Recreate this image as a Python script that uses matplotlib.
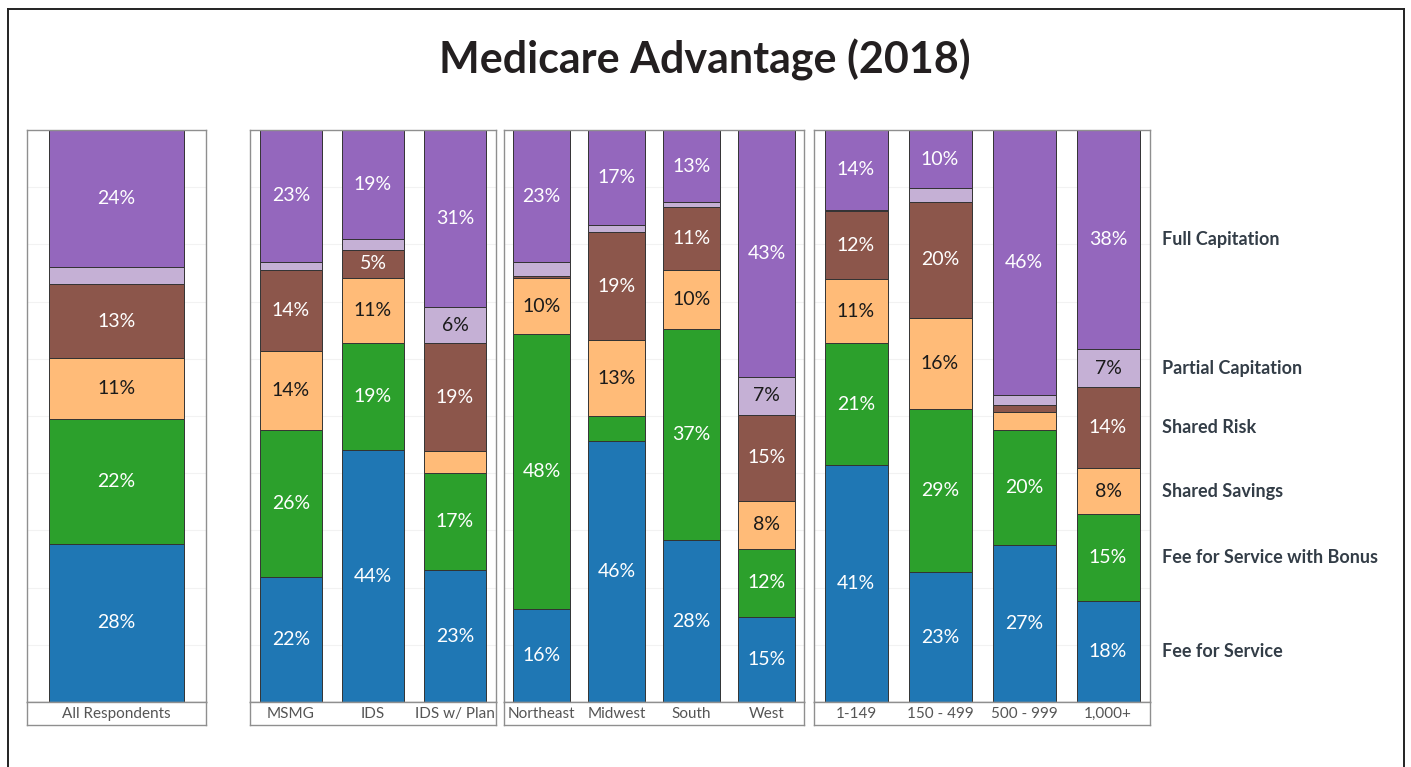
import numpy as np
import matplotlib

matplotlib.use("Agg")

import matplotlib.pyplot as plt
from matplotlib.lines import Line2D
from matplotlib.transforms import blended_transform_factory


CATEGORIES = [
    "All Respondents",
    "MSMG", "IDS", "IDS w/ Plan",
    "Northeast", "Midwest", "South", "West",
    "1-149", "150 - 499", "500 - 999", "1,000+",
]
PANEL_SIZES = [1, 3, 4, 4]

SERIES = [
    "Fee for Service",
    "Fee for Service with Bonus",
    "Shared Savings",
    "Shared Risk",
    "Partial Capitation",
    "Full Capitation",
]

# percent of respondents, bottom to top of each bar
fee_for_service = [27.7, 21.9, 44.0, 23.0, 16.2, 45.6, 28.3, 14.9, 41.4, 22.7, 27.4, 17.7]
ffs_with_bonus = [21.8, 25.6, 18.8, 17.0, 48.1, 4.4, 36.9, 11.9, 21.3, 28.6, 20.2, 15.1]
shared_savings = [10.6, 13.8, 11.3, 3.8, 9.8, 13.2, 10.3, 8.4, 11.2, 15.9, 3.1, 8.1]
shared_risk = [13.0, 14.2, 5.0, 19.0, 0.4, 19.0, 11.0, 15.0, 11.9, 20.2, 1.2, 14.1]
partial_capitation = [2.9, 1.5, 1.9, 6.2, 2.4, 1.2, 0.9, 6.6, 0.3, 2.4, 1.7, 6.7]
full_capitation = [24.0, 23.0, 19.0, 31.0, 23.1, 16.6, 12.6, 43.2, 13.9, 10.2, 46.4, 38.3]

COLORS = ["#1f77b4", "#2ca02c", "#ffbb78", "#8c564b", "#c5b0d5", "#9467bd"]
TEXT_COLORS = ["white", "white", "#1a1a1a", "white", "#1a1a1a", "white"]

W, H = 1411, 767
PANEL_X = [(27, 206), (250, 496), (504, 804), (814, 1150)]
BAR_TOP, BAR_BOTTOM, BAND_BOTTOM = 130, 702, 725
SPINE = "#8f8f8f"

plt.rcParams["font.family"] = ["Lato", "DejaVu Sans"]

values = np.array([
    fee_for_service,
    ffs_with_bonus,
    shared_savings,
    shared_risk,
    partial_capitation,
    full_capitation,
])

fig = plt.figure(figsize=(W / 100, H / 100), dpi=100)

# outer frame (left, top, right)
frame = dict(color="#222222", linewidth=1.4, transform=fig.transFigure)
fig.add_artist(Line2D([8 / W, 8 / W], [0, 1 - 9 / H], **frame))
fig.add_artist(Line2D([8 / W, 1404 / W], [1 - 9 / H, 1 - 9 / H], **frame))
fig.add_artist(Line2D([1404 / W, 1404 / W], [0, 1 - 9 / H], **frame))

fig.text(705 / W, 1 - 60 / H, "Medicare Advantage (2018)", ha="center", va="center",
         fontsize=31, fontweight="bold", color="#231f20")

start = 0
last_ax = None
for (x0, x1), n in zip(PANEL_X, PANEL_SIZES):
    idx = list(range(start, start + n))
    start += n

    ax = fig.add_axes([x0 / W, 1 - BAR_BOTTOM / H, (x1 - x0) / W, (BAR_BOTTOM - BAR_TOP) / H])
    band = fig.add_axes([x0 / W, 1 - BAND_BOTTOM / H, (x1 - x0) / W, (BAND_BOTTOM - BAR_BOTTOM) / H])

    x = np.arange(n)
    bottom = np.zeros(n)
    for s in range(len(SERIES)):
        vals = values[s, idx]
        ax.bar(x, vals, 0.75, bottom=bottom, color=COLORS[s],
               edgecolor="#333333", linewidth=0.7, zorder=2)
        for xi, v, b in zip(x, vals, bottom):
            if v >= 5:
                ax.text(xi, b + v / 2, f"{v:.0f}%", ha="center", va="center",
                        fontsize=14, color=TEXT_COLORS[s], zorder=3)
        bottom += vals

    ax.set_xlim(-0.5, n - 0.5)
    ax.set_ylim(0, 100)
    ax.set_yticks(np.arange(10, 100, 10))
    ax.set_xticks([])
    ax.tick_params(left=False, labelleft=False)
    ax.grid(axis="y", color="#f2f2f2", linewidth=0.8, zorder=0)
    for sp in ax.spines.values():
        sp.set_color(SPINE)
        sp.set_linewidth(1)

    band.set_xlim(-0.5, n - 0.5)
    band.set_ylim(0, 1)
    band.set_xticks([])
    band.set_yticks([])
    for sp in band.spines.values():
        sp.set_color(SPINE)
        sp.set_linewidth(1)
    for xi, i in zip(x, idx):
        band.text(xi, 0.48, CATEGORIES[i], ha="center", va="center",
                  fontsize=11, color="#555555")

    last_ax = ax

# series names lined up with the segments of the last bar
trans = blended_transform_factory(fig.transFigure, last_ax.transData)
last = values[:, -1]
centers = np.cumsum(last) - last / 2
for name, yc in zip(SERIES, centers):
    fig.text(1162 / W, yc, name, transform=trans, ha="left", va="center",
             fontsize=13, fontweight="bold", color="#333d47")

fig.savefig("out.png", dpi=100)
